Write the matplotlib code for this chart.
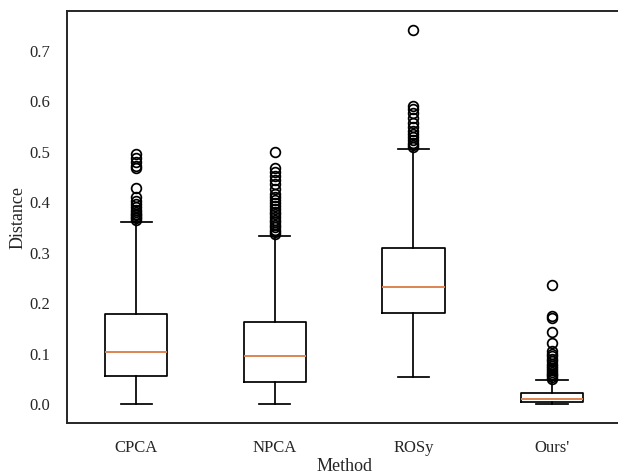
import matplotlib.pyplot as plt

# ---- values ----
methods = ["CPCA", "NPCA", "ROSy", "Ours'"]
whislo = [0.0, 0.0, 0.054, 0.001]
q1 = [0.056, 0.045, 0.180, 0.005]
med = [0.103, 0.095, 0.232, 0.010]
q3 = [0.178, 0.163, 0.310, 0.022]
whishi = [0.361, 0.333, 0.505, 0.049]

fliers_cpca = [0.496, 0.488, 0.480, 0.472, 0.468, 0.428, 0.410, 0.402, 0.396,
               0.390, 0.385, 0.381, 0.377, 0.374, 0.371, 0.368, 0.365]
fliers_npca = [0.499, 0.468, 0.460, 0.452, 0.445, 0.436, 0.426, 0.417, 0.410,
               0.404, 0.398, 0.392, 0.386, 0.381, 0.376, 0.371, 0.366, 0.361,
               0.356, 0.351, 0.346, 0.341, 0.337]
fliers_rosy = [0.742, 0.591, 0.584, 0.577, 0.567, 0.557, 0.549, 0.541, 0.535,
               0.529, 0.523, 0.518, 0.513, 0.509]
fliers_ours = [0.236, 0.175, 0.171, 0.143, 0.122, 0.106, 0.100, 0.095, 0.090,
               0.085, 0.080, 0.076, 0.072, 0.068, 0.064, 0.060, 0.057, 0.054,
               0.051]
fliers = [fliers_cpca, fliers_npca, fliers_rosy, fliers_ours]

# ---- style (seaborn-ish white look, serif font) ----
plt.rcParams.update({
    "font.family": ["Liberation Serif", "DejaVu Serif"],
    "font.size": 13,
    "axes.labelsize": 13,
    "xtick.labelsize": 12,
    "ytick.labelsize": 12,
    "axes.edgecolor": "0.15",
    "axes.linewidth": 1.4,
    "xtick.major.size": 6,
    "ytick.major.size": 6,
    "xtick.major.pad": 6,
    "ytick.major.pad": 6,
    "xtick.bottom": False,
    "ytick.left": False,
    "text.color": "0.15",
    "xtick.color": "0.15",
    "ytick.color": "0.15",
    "axes.labelcolor": "0.15",
})

stats = []
for i, name in enumerate(methods):
    stats.append({
        "label": name,
        "whislo": whislo[i],
        "q1": q1[i],
        "med": med[i],
        "q3": q3[i],
        "whishi": whishi[i],
        "fliers": fliers[i],
    })

fig = plt.figure(figsize=(6.18, 4.75), dpi=100)
ax = fig.add_axes([0.1084, 0.1095, 0.897, 0.8673])

lw = 1.25
ax.bxp(stats, showfliers=True,
       boxprops={"linewidth": lw},
       whiskerprops={"linewidth": lw},
       capprops={"linewidth": lw},
       medianprops={"color": "#dd8452", "linewidth": 1.4},
       flierprops={"markersize": 7, "markeredgewidth": 1.25})

ax.set_xlim(0.5, 4.5)
ax.set_ylim(-0.0371, 0.779)
ax.set_yticks([0.0, 0.1, 0.2, 0.3, 0.4, 0.5, 0.6, 0.7])
ax.set_xlabel("Method", labelpad=2)
ax.set_ylabel("Distance", labelpad=2)

fig.savefig("out.png", dpi=100)
